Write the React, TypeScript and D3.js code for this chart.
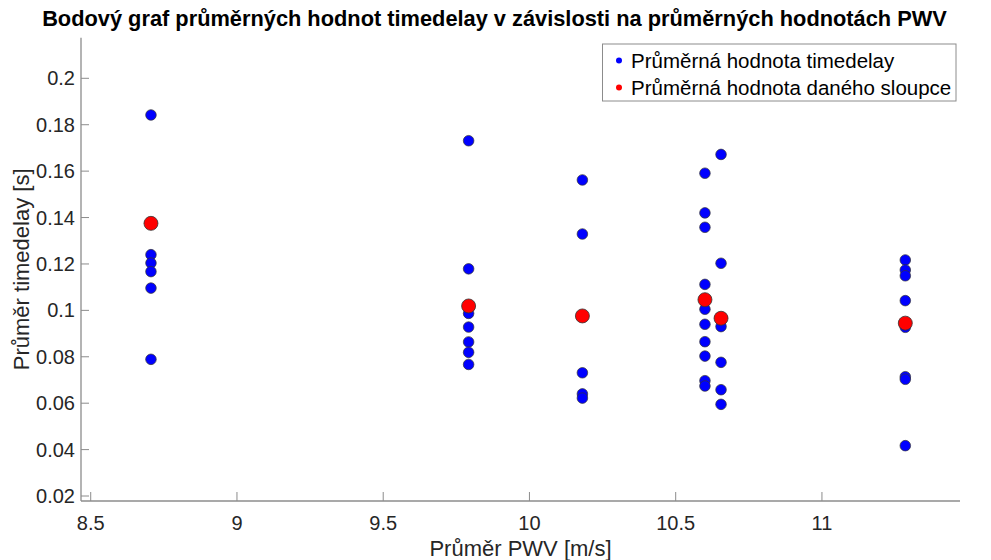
import React from "react";
import * as d3 from "d3";

const pwvColumns = [8.706, 9.792, 10.181, 10.6, 10.655, 11.285];
const timedelayValues: number[][] = [
  [0.1842, 0.124, 0.1204, 0.1167, 0.1096, 0.0789],
  [0.1731, 0.1179, 0.0987, 0.0928, 0.0864, 0.0819, 0.0767],
  [0.1562, 0.1329, 0.0731, 0.064, 0.0622],
  [0.1591, 0.142, 0.1358, 0.1112, 0.1005, 0.094, 0.0865, 0.0803, 0.0697, 0.0674],
  [0.1672, 0.1203, 0.093, 0.0776, 0.0658, 0.0595],
  [0.1217, 0.1174, 0.1149, 0.1042, 0.0927, 0.0714, 0.0703, 0.0417],
];
const columnMeans = [0.1375, 0.1019, 0.0976, 0.1046, 0.0966, 0.0945];
const xTicks = [8.5, 9, 9.5, 10, 10.5, 11];
const yTicks = [0.02, 0.04, 0.06, 0.08, 0.1, 0.12, 0.14, 0.16, 0.18, 0.2];
const legendLabels = ["Průměrná hodnota timedelay", "Průměrná hodnota daného sloupce"];

const W = 991;
const H = 560;
const left = 81;
const right = 960;
const top = 37.7;
const bottom = 501;
const FONT = "'Liberation Sans', Arial, Helvetica, sans-serif";
const AXIS = "#8c8c8c";
const TEXT = "#262626";

export default function App() {
  const x = d3.scaleLinear().domain([8.4668, 11.472]).range([left, right]);
  const y = d3.scaleLinear().domain([0.01785, 0.2175]).range([bottom, top]);

  const blue: { cx: number; cy: number }[] = [];
  timedelayValues.forEach((vals, i) =>
    vals.forEach((v) => blue.push({ cx: x(pwvColumns[i]), cy: y(v) }))
  );

  return (
    <svg
      width={W}
      height={H}
      style={{ position: "absolute", left: 0, top: 0, background: "#fff" }}
      fontFamily={FONT}
    >
      <rect x={0} y={0} width={W} height={H} fill="#fff" />
      <text
        x={494.5}
        y={26}
        textAnchor="middle"
        fontSize={21.8}
        fontWeight="bold"
        fill="#000"
      >
        Bodový graf průměrných hodnot timedelay v závislosti na průměrných hodnotách PWV
      </text>

      {/* axes */}
      <line x1={left} x2={left} y1={top} y2={bottom} stroke={AXIS} strokeWidth={1.3} />
      <line x1={left} x2={right} y1={bottom} y2={bottom} stroke={AXIS} strokeWidth={1.3} />

      {yTicks.map((t) => (
        <g key={"y" + t}>
          <line x1={left} x2={left + 8} y1={y(t)} y2={y(t)} stroke={AXIS} strokeWidth={1} />
          <text
            x={left - 6}
            y={y(t)}
            dy="0.35em"
            textAnchor="end"
            fontSize={20}
            fill={TEXT}
          >
            {String(t)}
          </text>
        </g>
      ))}
      {xTicks.map((t) => (
        <g key={"x" + t}>
          <line x1={x(t)} x2={x(t)} y1={bottom} y2={bottom - 9} stroke={AXIS} strokeWidth={1} />
          <text x={x(t)} y={bottom + 29} textAnchor="middle" fontSize={20} fill={TEXT}>
            {String(t)}
          </text>
        </g>
      ))}

      <text x={(left + right) / 2} y={556} textAnchor="middle" fontSize={22} fill={TEXT}>
        Průměr PWV [m/s]
      </text>
      <text
        transform={`translate(29, ${(top + bottom) / 2}) rotate(-90)`}
        textAnchor="middle"
        fontSize={22}
        fill={TEXT}
      >
        Průměr timedelay [s]
      </text>

      {blue.map((p, i) => (
        <circle key={"b" + i} cx={p.cx} cy={p.cy} r={5.3} fill="#0000ff" stroke="#333" strokeWidth={0.7} />
      ))}
      {columnMeans.map((m, i) => (
        <circle key={"r" + i} cx={x(pwvColumns[i])} cy={y(m)} r={7} fill="#ff0000" stroke="#333" strokeWidth={0.8} />
      ))}

      {/* legend */}
      <rect x={602.5} y={44} width={353.5} height={57} fill="#fff" stroke="#8c8c8c" strokeWidth={1} />
      <circle cx={619} cy={60.5} r={3} fill="#0000ff" />
      <circle cx={619} cy={87.5} r={3} fill="#ff0000" />
      <text x={631} y={60.5} dy="0.35em" fontSize={20.5} fill="#000">
        {legendLabels[0]}
      </text>
      <text x={631} y={87.5} dy="0.35em" fontSize={20.5} fill="#000">
        {legendLabels[1]}
      </text>
    </svg>
  );
}
